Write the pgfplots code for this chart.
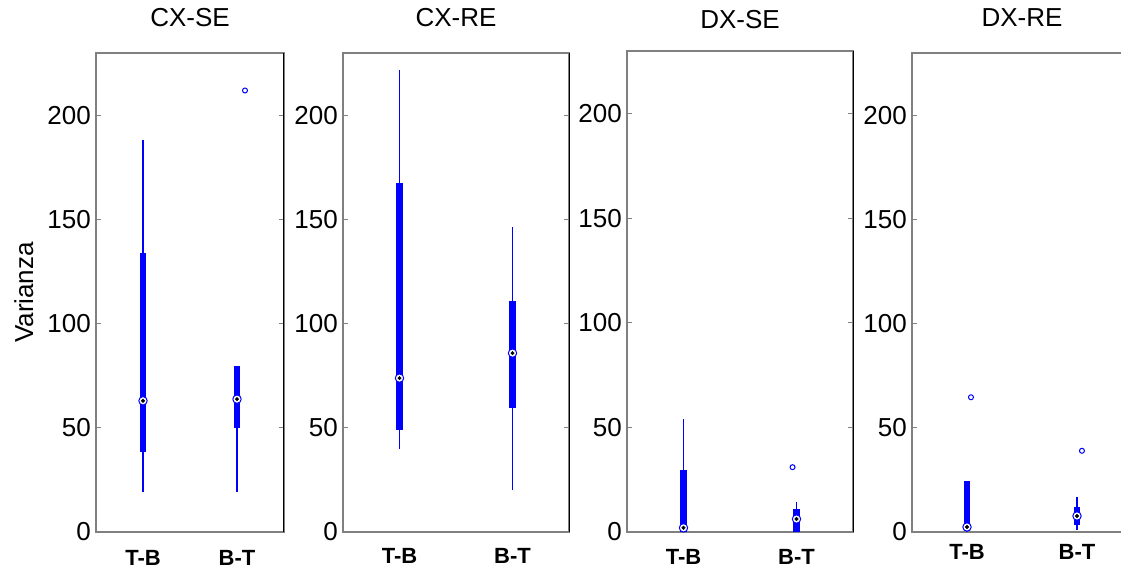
\documentclass[border=0pt]{standalone}
\usepackage{pgfplots}
\pgfplotsset{compat=1.18}
\usepackage{fontspec}
\setmainfont{Liberation Sans}
\definecolor{axgray}{RGB}{128,128,128}
\definecolor{mblue}{RGB}{0,0,255}

% one box: x, whisker low, whisker high, box low, box high, median
\newcommand{\bplot}[6]{%
  \addplot[mblue, line width=1.2bp] coordinates {(#1,#2) (#1,#3)};
  \addplot[mblue, line width=6.5bp] coordinates {(#1,#4) (#1,#5)};
  \addplot[only marks, mark=*, mark size=4.2bp, mark options={draw=mblue, fill=white, line width=1bp}] coordinates {(#1,#6)};
  \addplot[only marks, mark=*, mark size=1.8bp, black] coordinates {(#1,#6)};
}
\newcommand{\rightedge}{\draw[black, line width=1bp] (rel axis cs:1,0) -- (rel axis cs:1,1);}

\pgfplotsset{
  vpanel/.style={
    scale only axis,
    anchor=south west,
    ymin=0, ymax=230,
    xmin=0.5, xmax=2.5,
    ytick={0,50,100,150,200},
    xtick={1,2},
    xticklabels={T-B,B-T},
    xtick style={draw=none},
    ytick style={axgray, line width=1bp},
    major tick length=5bp,
    tick align=inside,
    /pgf/number format/assume math mode=true,
    yticklabel style={font=\fontsize{26bp}{30bp}\selectfont, inner sep=0pt, xshift=-5bp},
    xticklabel style={font=\fontsize{22bp}{26bp}\selectfont\bfseries, anchor=base, inner sep=0pt},
    axis line style={axgray, line width=1.5bp},
    title style={font=\fontsize{26bp}{30bp}\selectfont, at={(0.5,1)}, anchor=base, yshift=21bp},
    clip=false,
  },
  outl/.style={only marks, mark=o, mark size=2.5bp, mblue, mark options={line width=1bp}},
}

\begin{document}
\begin{tikzpicture}
\useasboundingbox (0,0) rectangle (1121bp,-569bp);

% CX-SE
\begin{axis}[vpanel, at={(96bp,-532bp)}, width=188bp, height=479bp,
  title={CX-SE},
  xticklabel style={yshift=-33bp},
  ylabel={Varianza},
  ylabel style={font=\fontsize{26bp}{30bp}\selectfont, at={(axis description cs:-0.335,0.5)}, anchor=base}]
  \bplot{1}{19}{188}{38.5}{134}{63}
  \bplot{2}{19}{79.6}{50}{79.6}{63.8}
  \addplot[outl] coordinates {(2.085,212)};
  \rightedge
\end{axis}

% CX-RE
\begin{axis}[vpanel, at={(343bp,-532bp)}, width=226bp, height=479bp,
  title={CX-RE},
  xticklabel style={yshift=-31bp}]
  \bplot{1}{39.8}{221.6}{49}{167.4}{73.9}
  \bplot{2}{20.1}{146.3}{59.5}{110.8}{85.9}
  \rightedge
\end{axis}

% DX-SE
\begin{axis}[vpanel, at={(627bp,-532bp)}, width=226bp, height=481bp,
  title={DX-SE},
  title style={yshift=-4bp},
  xticklabel style={yshift=-32bp}]
  \bplot{1}{0}{54.2}{0}{29.7}{2}
  \bplot{2}{0}{14.4}{0}{11}{6.2}
  \addplot[outl] coordinates {(1.965,31)};
  \rightedge
\end{axis}

% DX-RE
\begin{axis}[vpanel, at={(912bp,-532bp)}, width=220bp, height=479bp,
  title={DX-RE},
  xticklabel style={yshift=-27bp}]
  \bplot{1}{0}{24.5}{0.3}{24.5}{2.4}
  \bplot{2}{1}{16.8}{3.4}{12}{7.7}
  \addplot[outl] coordinates {(1.036,64.7) (2.045,39)};
  \rightedge
\end{axis}
\end{tikzpicture}
\end{document}
